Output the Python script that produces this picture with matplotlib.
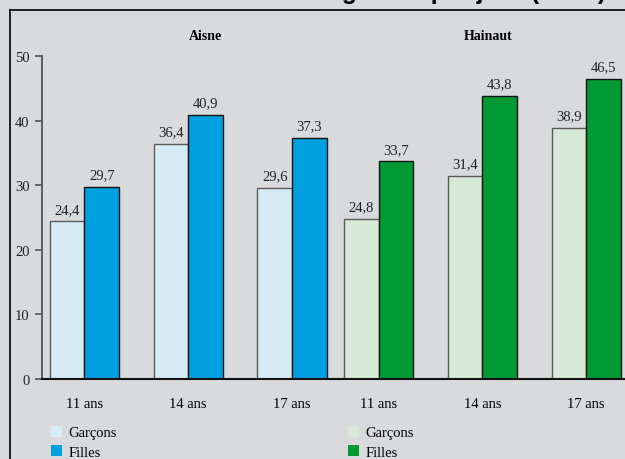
import numpy as np
import matplotlib
matplotlib.use("Agg")
import matplotlib.pyplot as plt
from matplotlib.lines import Line2D
from matplotlib.patches import Patch

matplotlib.rcParams['font.family'] = 'Liberation Serif'
matplotlib.rcParams['font.size'] = 10

W, H = 625, 460
BG = "#d9dadc"

AGES = ["11 ans", "14 ans", "17 ans"]
REGIONS = ["Aisne", "Hainaut"]
GARCONS = {"Aisne": [24.4, 36.4, 29.6], "Hainaut": [24.8, 31.4, 38.9]}
FILLES = {"Aisne": [29.7, 40.9, 37.3], "Hainaut": [33.7, 43.8, 46.5]}
LEGEND_LABELS = ["Garçons", "Filles"]

COLORS = {
    "Aisne": ("#d7ebf5", "#00a0e0"),
    "Hainaut": ("#d5e9d6", "#009a35"),
}
# left edge of each region's first pair, in bar widths
REGION_START = {"Aisne": 0.0, "Hainaut": 8.5}
PITCH = 3.0


def fmt(v):
    return f"{v:.1f}".replace(".", ",")


fig = plt.figure(figsize=(W / 100, H / 100), dpi=100)
fig.patch.set_facecolor(BG)

ax = fig.add_axes([42 / W, 80 / H, (W - 42) / W, 323 / H])
ax.set_facecolor(BG)

centers, labels = [], []
for reg in REGIONS:
    light, dark = COLORS[reg]
    x0 = REGION_START[reg] + PITCH * np.arange(len(AGES))
    b1 = ax.bar(x0 + 0.5, GARCONS[reg], width=1.0, color=light,
                edgecolor="#5a5a5a", linewidth=1.0, zorder=2)
    b2 = ax.bar(x0 + 1.5, FILLES[reg], width=1.0, color=dark,
                edgecolor="#111111", linewidth=1.0, zorder=2)
    for bars, vals in ((b1, GARCONS[reg]), (b2, FILLES[reg])):
        for bar, v in zip(bars, vals):
            ax.annotate(fmt(v), (bar.get_x() + bar.get_width() / 2, v),
                        xytext=(0, 4), textcoords="offset points",
                        ha="center", va="bottom", fontsize=10.5, color="#222222")
    centers.extend(x0 + 1.0)
    labels.extend(AGES)

ax.set_xlim(-0.225, 16.62)
ax.set_ylim(0, 50)
ax.set_yticks(np.arange(0, 51, 10))
ax.set_xticks(centers)
ax.set_xticklabels(labels, fontsize=10.5)
ax.tick_params(axis="x", length=0, pad=13)
ax.tick_params(axis="y", length=5, width=1.2, color="#555555", pad=4,
               labelcolor="#222222", labelsize=10.5)
for s in ("top", "right"):
    ax.spines[s].set_visible(False)
ax.spines["left"].set_color("#555555")
ax.spines["left"].set_linewidth(1.3)
ax.spines["bottom"].set_color("#111111")
ax.spines["bottom"].set_linewidth(1.5)
ax.spines["bottom"].set_zorder(3)

# region headers
fig.text(205 / W, 1 - 37 / H, "Aisne", ha="center", va="center",
         fontsize=10, fontweight="bold")
fig.text(488 / W, 1 - 37 / H, "Hainaut", ha="center", va="center",
         fontsize=10, fontweight="bold")

# legends, one per region
for reg, lx in (("Aisne", 51), ("Hainaut", 348)):
    light, dark = COLORS[reg]
    handles = [Patch(facecolor=light, edgecolor="none"),
               Patch(facecolor=dark, edgecolor="none")]
    fig.legend(handles, LEGEND_LABELS, loc="upper left",
               bbox_to_anchor=(lx / W, 1 - 427 / H), frameon=False,
               handlelength=0.75, handleheight=0.75, handletextpad=0.45,
               labelspacing=0.4, borderpad=0, borderaxespad=0, fontsize=10.5)

# surrounding frame
fig.add_artist(Line2D([10 / W, 10 / W], [0, 1 - 11 / H], color="black", lw=1.2))
fig.add_artist(Line2D([10 / W, 1], [1 - 11 / H, 1 - 11 / H], color="black", lw=1.2))

# title, mostly above the top edge
fig.text(606 / W, 1 + 1.5 / H, "Consommation régulière par jour (en %)",
         ha="right", va="baseline", fontsize=18, fontweight="bold",
         family="Liberation Sans")

fig.savefig("out.png", dpi=100, facecolor=BG)
